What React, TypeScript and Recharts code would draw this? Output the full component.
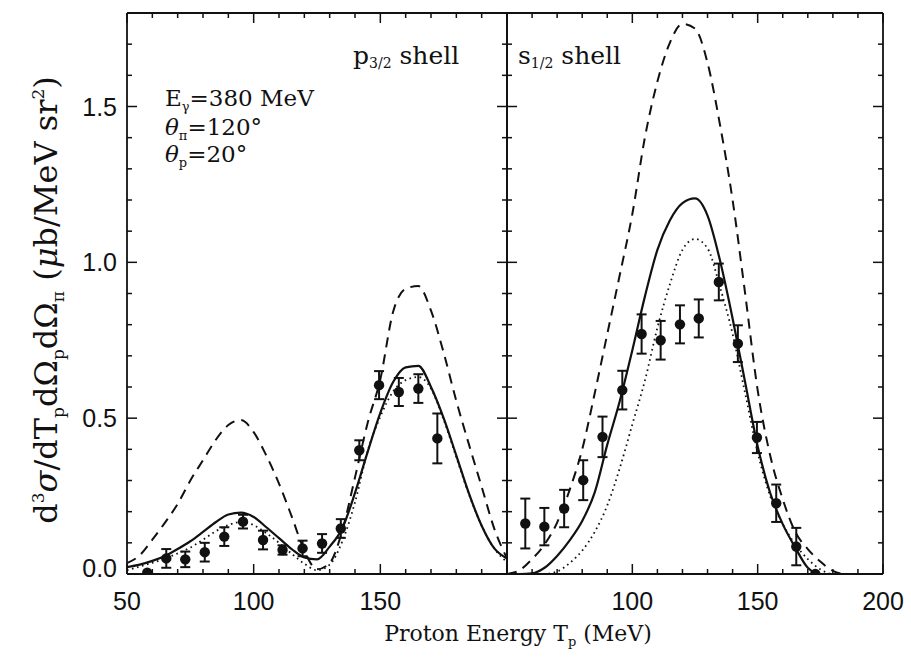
import { ComposedChart, Line, Scatter, ErrorBar, XAxis, YAxis } from 'recharts'

// proton energy grid for the model curves (MeV)
const energy = [50, 55, 60, 65, 70, 75, 80, 85, 90, 95, 100, 105, 110, 115, 120, 125, 130, 135, 140, 145, 150, 155, 160, 165, 170, 175, 180, 185, 190, 195, 200]

// p3/2 shell
const p32Solid = [0.022, 0.030, 0.042, 0.058, 0.080, 0.105, 0.135, 0.166, 0.191, 0.197, 0.183, 0.150, 0.115, 0.080, 0.053, 0.047, 0.088, 0.147, 0.260, 0.392, 0.517, 0.615, 0.663, 0.668, 0.600, 0.500, 0.380, 0.258, 0.155, 0.082, 0.050]
const p32Dashed = [0.035, 0.060, 0.110, 0.165, 0.225, 0.300, 0.365, 0.430, 0.478, 0.494, 0.455, 0.380, 0.290, 0.185, 0.075, 0.015, 0.035, 0.140, 0.310, 0.485, 0.625, 0.840, 0.915, 0.924, 0.845, 0.710, 0.555, 0.415, 0.280, 0.145, 0.050]
const p32Dotted = [0.012, 0.024, 0.036, 0.050, 0.066, 0.085, 0.110, 0.137, 0.157, 0.167, 0.157, 0.131, 0.100, 0.065, 0.033, 0.012, 0.030, 0.105, 0.230, 0.395, 0.505, 0.585, 0.622, 0.632, 0.595, 0.495, 0.375, 0.255, 0.155, 0.082, 0.038]
const p32PointE = [58, 65.5, 73, 80.7, 88.4, 95.8, 103.7, 111.4, 119.3, 127, 134.4, 141.7, 149.5, 157.3, 165, 172.5]
const p32PointV = [0.004, 0.050, 0.047, 0.070, 0.120, 0.168, 0.109, 0.077, 0.082, 0.098, 0.146, 0.397, 0.606, 0.584, 0.595, 0.435]
const p32PointErr = [0, 0.03, 0.025, 0.03, 0.03, 0.022, 0.03, 0.015, 0.025, 0.03, 0.03, 0.032, 0.045, 0.045, 0.046, 0.08]

// s1/2 shell
const s12Solid = [0, 0, 0.002, 0.020, 0.058, 0.108, 0.170, 0.262, 0.415, 0.555, 0.718, 0.890, 1.040, 1.135, 1.190, 1.205, 1.150, 1.005, 0.820, 0.615, 0.410, 0.260, 0.160, 0.085, 0.020, 0, 0, 0, 0, 0, 0]
const s12Dashed = [0, 0.012, 0.048, 0.095, 0.165, 0.270, 0.400, 0.580, 0.770, 0.960, 1.155, 1.400, 1.580, 1.705, 1.765, 1.750, 1.640, 1.440, 1.200, 0.900, 0.590, 0.380, 0.240, 0.135, 0.080, 0.040, 0.010, 0, 0, 0, 0]
const s12Dotted = [0, 0, 0, 0, 0.008, 0.035, 0.075, 0.135, 0.220, 0.340, 0.480, 0.620, 0.790, 0.930, 1.040, 1.075, 1.045, 0.920, 0.770, 0.580, 0.390, 0.250, 0.160, 0.095, 0.048, 0.015, 0, 0, 0, 0, 0]
const s12PointE = [57.3, 64.9, 72.8, 80.4, 88.1, 96.0, 103.7, 111.3, 119.0, 126.5, 134.5, 142.1, 149.7, 157.4, 165.4, 173.0]
const s12PointV = [0.162, 0.152, 0.210, 0.301, 0.440, 0.590, 0.770, 0.750, 0.801, 0.820, 0.937, 0.739, 0.438, 0.227, 0.088, 0.0]
const s12PointErr = [0.08, 0.06, 0.06, 0.064, 0.065, 0.062, 0.063, 0.062, 0.061, 0.061, 0.059, 0.059, 0.05, 0.06, 0.06, 0]

const xTicks = [50, 60, 70, 80, 90, 100, 110, 120, 130, 140, 150, 160, 170, 180, 190, 200]
const yTicks = [0, 0.1, 0.2, 0.3, 0.4, 0.5, 0.6, 0.7, 0.8, 0.9, 1.0, 1.1, 1.2, 1.3, 1.4, 1.5, 1.6, 1.7, 1.8]
const leftXLabels = [50, 100, 150]
const rightXLabels = [100, 150, 200]
const yLabels = [0, 0.5, 1.0, 1.5]

const INK = '#111'
const TICK_FONT = '"Liberation Sans", Arial, sans-serif'
const SERIF = '"DejaVu Serif", serif'

const isMajor = (v: number, step: number) => Math.abs(v / step - Math.round(v / step)) < 1e-6
const has = (list: number[], v: number) => list.some((l) => Math.abs(l - v) < 1e-6)

function makeTick(side: 'bottom' | 'top' | 'left' | 'right', labels: number[]) {
  return (props: any) => {
    const { x, y, payload } = props
    const v = payload.value
    const major = side === 'left' || side === 'right' ? isMajor(v, 0.5) : isMajor(v, 50)
    const len = major ? 10 : 5
    let line
    if (side === 'bottom') line = <line x1={x} y1={y} x2={x} y2={y - len} />
    else if (side === 'top') line = <line x1={x} y1={y} x2={x} y2={y + len} />
    else if (side === 'left') line = <line x1={x} y1={y} x2={x + len} y2={y} />
    else line = <line x1={x} y1={y} x2={x - len} y2={y} />
    let label = null
    if (has(labels, v)) {
      if (side === 'bottom') {
        label = (
          <text x={x} y={y + 36} textAnchor="middle" fontSize={25} fontFamily={TICK_FONT} fill={INK} stroke="none">
            {v}
          </text>
        )
      } else if (side === 'left') {
        label = (
          <text x={x - 10} y={y + (v === 0 ? 3 : 9)} textAnchor="end" fontSize={25} fontFamily={TICK_FONT} fill={INK} stroke="none">
            {v.toFixed(1)}
          </text>
        )
      }
    }
    return (
      <g stroke={INK} strokeWidth={1.5}>
        {line}
        {label}
      </g>
    )
  }
}

interface PanelProps {
  solid: number[]
  dashed: number[]
  dotted: number[]
  pointE: number[]
  pointV: number[]
  pointErr: number[]
  xLabels: number[]
  showYLabels: boolean
  width: number
  margin: { top: number; right: number; bottom: number; left: number }
}

function Panel({ solid, dashed, dotted, pointE, pointV, pointErr, xLabels, showYLabels, width, margin }: PanelProps) {
  const rows = energy.map((e, i) => ({ e, solid: solid[i], dashed: dashed[i], dotted: dotted[i] }))
  const points = pointE.map((e, i) => ({ e, v: pointV[i], err: pointErr[i] }))
  const axisLine = { stroke: INK, strokeWidth: 1.8 }
  return (
    <ComposedChart width={width} height={666} data={rows} margin={margin}>
      <XAxis xAxisId="b" dataKey="e" type="number" domain={[50, 200]} allowDataOverflow ticks={xTicks} interval={0}
        height={40} tickSize={0} tickMargin={0} tickLine={false} axisLine={axisLine} tick={makeTick('bottom', xLabels)} />
      <XAxis xAxisId="t" orientation="top" dataKey="e" type="number" domain={[50, 200]} allowDataOverflow ticks={xTicks} interval={0}
        height={1} tickSize={0} tickMargin={0} tickLine={false} axisLine={axisLine} tick={makeTick('top', [])} />
      <YAxis yAxisId="l" type="number" domain={[0, 1.8]} allowDataOverflow ticks={yTicks} interval={0}
        width={showYLabels ? 40 : 1} tickSize={0} tickMargin={0} tickLine={false} axisLine={axisLine}
        tick={makeTick('left', showYLabels ? yLabels : [])} />
      <YAxis yAxisId="r" orientation="right" type="number" domain={[0, 1.8]} allowDataOverflow ticks={yTicks} interval={0}
        width={1} tickSize={0} tickMargin={0} tickLine={false} axisLine={axisLine} tick={makeTick('right', [])} />
      <Line xAxisId="b" yAxisId="l" type="monotone" dataKey="dashed" stroke={INK} strokeWidth={2} strokeDasharray="10 7" dot={false} isAnimationActive={false} />
      <Line xAxisId="b" yAxisId="l" type="monotone" dataKey="dotted" stroke={INK} strokeWidth={1.8} strokeDasharray="1.6 3.6" dot={false} isAnimationActive={false} />
      <Line xAxisId="b" yAxisId="l" type="monotone" dataKey="solid" stroke={INK} strokeWidth={2.2} dot={false} isAnimationActive={false} />
      <Scatter xAxisId="b" yAxisId="l" data={points} dataKey="v" isAnimationActive={false}
        shape={(p: any) => <circle cx={p.cx} cy={p.cy} r={5.2} fill={INK} />}>
        <ErrorBar dataKey="err" direction="y" width={5} stroke={INK} strokeWidth={2} />
      </Scatter>
    </ComposedChart>
  )
}

export default function App() {
  return (
    <div style={{ position: 'fixed', left: 0, top: 0, width: 911, height: 666, background: '#fff', overflow: 'hidden' }}>
      <div style={{ position: 'absolute', left: 0, top: 0 }}>
        <Panel solid={p32Solid} dashed={p32Dashed} dotted={p32Dotted} pointE={p32PointE} pointV={p32PointV} pointErr={p32PointErr}
          xLabels={leftXLabels} showYLabels width={520} margin={{ top: 12, right: 12, bottom: 52, left: 87 }} />
      </div>
      <div style={{ position: 'absolute', left: 440, top: 0 }}>
        <Panel solid={s12Solid} dashed={s12Dashed} dotted={s12Dotted} pointE={s12PointE} pointV={s12PointV} pointErr={s12PointErr}
          xLabels={rightXLabels} showYLabels={false} width={471} margin={{ top: 12, right: 27, bottom: 52, left: 66 }} />
      </div>
      <svg width={911} height={666} style={{ position: 'absolute', left: 0, top: 0, pointerEvents: 'none' }} fontFamily={SERIF} fill={INK}>
        <text x={353} y={64} fontSize={25}>
          p<tspan fontSize={14} dy={4}>3/2</tspan><tspan dy={-4}>{' shell'}</tspan>
        </text>
        <text x={518} y={64} fontSize={25}>
          s<tspan fontSize={14} dy={4}>1/2</tspan><tspan dy={-4}>{' shell'}</tspan>
        </text>
        <text x={165} y={106} fontSize={23}>
          E<tspan fontSize={13} dy={5}>γ</tspan><tspan dy={-5}>=380 MeV</tspan>
        </text>
        <text x={165} y={135} fontSize={23}>
          <tspan fontStyle="italic">θ</tspan><tspan fontSize={13} dy={5}>π</tspan><tspan dy={-5}>=120°</tspan>
        </text>
        <text x={165} y={162} fontSize={23}>
          <tspan fontStyle="italic">θ</tspan><tspan fontSize={13} dy={5}>p</tspan><tspan dy={-5}>=20°</tspan>
        </text>
        <text x={518} y={641} fontSize={22} textAnchor="middle">
          Proton Energy T<tspan fontSize={13} dy={5}>p</tspan><tspan dy={-5}>{' (MeV)'}</tspan>
        </text>
        <text transform="translate(57,300) rotate(-90)" fontSize={32} textAnchor="middle">
          d<tspan fontSize={17} dy={-13}>3</tspan><tspan dy={13} fontStyle="italic">σ</tspan><tspan>/dT</tspan>
          <tspan fontSize={17} dy={7}>p</tspan><tspan dy={-7}>dΩ</tspan><tspan fontSize={17} dy={7}>p</tspan>
          <tspan dy={-7}>dΩ</tspan><tspan fontSize={17} dy={7}>π</tspan><tspan dy={-7}>{' ('}</tspan>
          <tspan fontStyle="italic">μ</tspan><tspan>b/MeV sr</tspan><tspan fontSize={17} dy={-13}>2</tspan><tspan dy={13}>)</tspan>
        </text>
      </svg>
    </div>
  )
}
